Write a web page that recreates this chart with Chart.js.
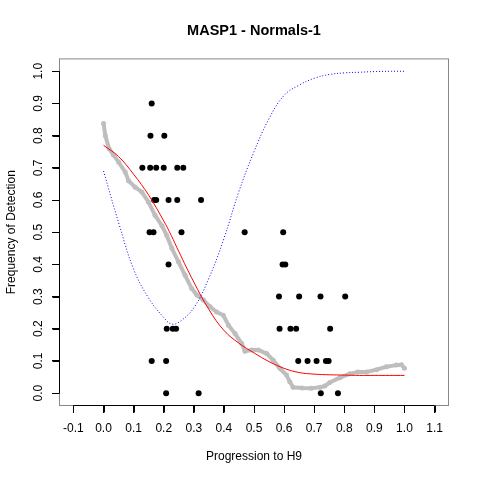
<!DOCTYPE html>
<html>
<head>
<meta charset="utf-8">
<script src="https://cdn.jsdelivr.net/npm/chart.js@4"></script>
<style>
  html, body { margin: 0; padding: 0; background: #fff; }
  #wrap { width: 480px; height: 480px; }
</style>
</head>
<body>
<div id="wrap"><canvas id="chart" width="480" height="480"></canvas></div>
<script>
// observed detection frequencies (black dots)
const detX = [0.16,
  0.156, 0.202,
  0.129, 0.155, 0.175, 0.2, 0.245, 0.265,
  0.168, 0.175, 0.216, 0.245, 0.324,
  0.153, 0.166, 0.259, 0.469, 0.597,
  0.216, 0.595, 0.604,
  0.583, 0.65, 0.721, 0.803,
  0.21, 0.23, 0.241, 0.585, 0.621, 0.64, 0.753,
  0.16, 0.208, 0.647, 0.678, 0.708, 0.739, 0.748,
  0.208, 0.316, 0.722, 0.779];
const detY = [0.9,
  0.8, 0.8,
  0.7, 0.7, 0.7, 0.7, 0.7, 0.7,
  0.6, 0.6, 0.6, 0.6, 0.6,
  0.5, 0.5, 0.5, 0.5, 0.5,
  0.4, 0.4, 0.4,
  0.3, 0.3, 0.3, 0.3,
  0.2, 0.2, 0.2, 0.2, 0.2, 0.2, 0.2,
  0.1, 0.1, 0.1, 0.1, 0.1, 0.1, 0.1,
  0, 0, 0, 0];

// running average (grey band)
const grayX = [0, 0.006, 0.018, 0.033, 0.05, 0.072, 0.083, 0.105, 0.127, 0.149,
  0.171, 0.194, 0.21, 0.227, 0.249, 0.271, 0.293, 0.31, 0.332, 0.354,
  0.376, 0.398, 0.415, 0.437, 0.459, 0.47, 0.492, 0.514, 0.542, 0.564,
  0.586, 0.608, 0.619, 0.63, 0.66, 0.69, 0.72, 0.735, 0.752, 0.785,
  0.818, 0.845, 0.874, 0.907, 0.94, 0.973, 0.99, 1.0];
const grayY = [0.838, 0.80, 0.76, 0.74, 0.718, 0.687, 0.66, 0.64, 0.625, 0.594,
  0.553, 0.52, 0.49, 0.45, 0.408, 0.366, 0.325, 0.305, 0.289, 0.268,
  0.252, 0.242, 0.211, 0.185, 0.154, 0.13, 0.134, 0.134, 0.123, 0.102,
  0.077, 0.056, 0.035, 0.018, 0.016, 0.015, 0.018, 0.022, 0.033, 0.048,
  0.06, 0.066, 0.066, 0.073, 0.082, 0.087, 0.088, 0.077];

// fitted curve (red) and density (blue dotted)
const curveX = [0, 0.05, 0.1, 0.15, 0.2, 0.225, 0.25, 0.3, 0.35, 0.4, 0.45, 0.5,
  0.55, 0.6, 0.65, 0.7, 0.75, 0.8, 0.85, 0.9, 0.95, 1.0];
const fitY = [0.77, 0.735, 0.68, 0.615, 0.535, 0.49, 0.44, 0.345, 0.26, 0.195, 0.155, 0.125,
  0.098, 0.077, 0.064, 0.059, 0.057, 0.056, 0.055, 0.055, 0.055, 0.055];
const densY = [0.69, 0.53, 0.385, 0.295, 0.235, 0.215, 0.22, 0.265, 0.357, 0.48, 0.627, 0.75,
  0.853, 0.925, 0.957, 0.978, 0.99, 0.995, 0.997, 0.999, 1.0, 1.0];

const xTicks = [-0.1, 0, 0.1, 0.2, 0.3, 0.4, 0.5, 0.6, 0.7, 0.8, 0.9, 1.0, 1.1];
const yTicks = [0, 0.1, 0.2, 0.3, 0.4, 0.5, 0.6, 0.7, 0.8, 0.9, 1.0];

function pts(xs, ys) {
  return xs.map((x, i) => ({x: x, y: ys[i]}));
}

const fontFam = '"Liberation Sans", Arial, Helvetica, sans-serif';
const TICK = 7;

// box round the plot plus R style axis lines and tick marks
const framePlugin = {
  id: 'frame',
  afterDraw(chart) {
    const c = chart.ctx, a = chart.chartArea;
    const sx = chart.scales.x, sy = chart.scales.y;
    c.save();
    c.strokeStyle = '#888';
    c.lineWidth = 1;
    c.strokeRect(a.left + 0.5, a.top + 0.5, a.right - a.left - 1, a.bottom - a.top - 1);
    c.strokeStyle = '#000';
    c.beginPath();
    const yb = a.bottom - 0.5, xl = a.left + 0.5;
    c.moveTo(sx.getPixelForValue(xTicks[0]), yb);
    c.lineTo(sx.getPixelForValue(xTicks[xTicks.length - 1]), yb);
    sx.ticks.forEach((t, i) => {
      const px = Math.round(sx.getPixelForTick(i)) + 0.5;
      c.moveTo(px, yb);
      c.lineTo(px, yb + TICK);
    });
    c.moveTo(xl, sy.getPixelForValue(yTicks[0]));
    c.lineTo(xl, sy.getPixelForValue(yTicks[yTicks.length - 1]));
    sy.ticks.forEach((t, i) => {
      const py = Math.round(sy.getPixelForTick(i)) + 0.5;
      c.moveTo(xl, py);
      c.lineTo(xl - TICK, py);
    });
    c.stroke();
    c.restore();
  }
};

new Chart(document.getElementById('chart'), {
  type: 'scatter',
  data: {
    datasets: [
      {
        data: pts(curveX, densY), showLine: true, order: 0,
        borderColor: '#0000ff', borderWidth: 1, borderDash: [1, 2],
        pointRadius: 0, tension: 0.4
      },
      {
        data: pts(curveX, fitY), showLine: true, order: 1,
        borderColor: '#ff0000', borderWidth: 1,
        pointRadius: 0, tension: 0.4
      },
      {
        data: pts(grayX, grayY), showLine: true, order: 2,
        borderColor: '#bebebe', borderWidth: 4,
        backgroundColor: '#bebebe', pointBorderWidth: 0, pointRadius: 2.5
      },
      {
        data: pts(detX, detY), order: 3,
        backgroundColor: '#000', borderWidth: 0, pointRadius: 3
      }
    ]
  },
  options: {
    responsive: false,
    animation: false,
    devicePixelRatio: 1,
    layout: { padding: { left: 0, right: 31, top: 0, bottom: 0 } },
    plugins: {
      legend: { display: false },
      tooltip: { enabled: false },
      title: {
        display: true,
        fullSize: false,
        text: 'MASP1 - Normals-1',
        color: '#000',
        font: { family: fontFam, size: 14.5, weight: 'bold' },
        padding: { top: 22, bottom: 19 }
      }
    },
    scales: {
      x: {
        type: 'linear', min: -0.148, max: 1.148,
        afterBuildTicks: s => { s.ticks = xTicks.map(v => ({value: v})); },
        afterFit: s => { s.height = 74; },
        grid: { display: true, drawOnChartArea: false, drawTicks: true, tickLength: TICK, tickColor: '#000' },
        border: { display: false },
        ticks: {
          color: '#000', padding: 8, maxRotation: 0, autoSkip: false,
          font: { family: fontFam, size: 12 },
          callback: v => v.toFixed(1)
        },
        title: {
          display: true, text: 'Progression to H9', color: '#000',
          font: { family: fontFam, size: 12 },
          padding: { top: 0, bottom: 16 }
        }
      },
      y: {
        type: 'linear', min: -0.04, max: 1.04,
        afterBuildTicks: s => { s.ticks = yTicks.map(v => ({value: v})); },
        afterFit: s => { s.width = 59; },
        grid: { display: true, drawOnChartArea: false, drawTicks: true, tickLength: TICK, tickColor: '#000' },
        border: { display: false },
        ticks: {
          color: '#000', padding: 5, minRotation: 90, maxRotation: 90,
          crossAlign: 'center', autoSkip: false,
          font: { family: fontFam, size: 12 },
          callback: v => v.toFixed(1)
        },
        title: {
          display: true, text: 'Frequency of Detection', color: '#000',
          font: { family: fontFam, size: 12 },
          padding: { top: 4, bottom: 0 }
        }
      }
    }
  },
  plugins: [framePlugin]
});
</script>
</body>
</html>
